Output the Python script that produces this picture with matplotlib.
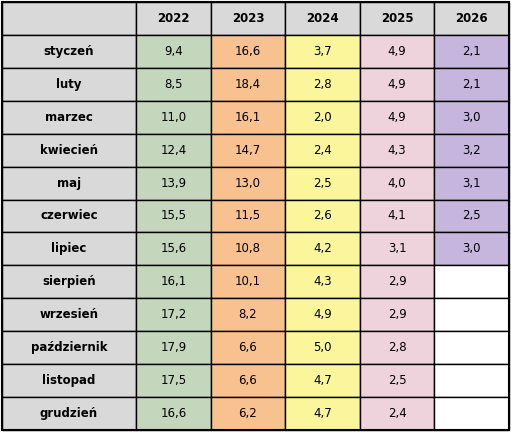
import matplotlib
matplotlib.use("Agg")
import matplotlib.pyplot as plt
from matplotlib.patches import Rectangle

years = ["2022", "2023", "2024", "2025", "2026"]
months = ["styczeń", "luty", "marzec", "kwiecień", "maj", "czerwiec", "lipiec",
          "sierpień", "wrzesień", "październik", "listopad", "grudzień"]
v2022 = [9.4, 8.5, 11.0, 12.4, 13.9, 15.5, 15.6, 16.1, 17.2, 17.9, 17.5, 16.6]
v2023 = [16.6, 18.4, 16.1, 14.7, 13.0, 11.5, 10.8, 10.1, 8.2, 6.6, 6.6, 6.2]
v2024 = [3.7, 2.8, 2.0, 2.4, 2.5, 2.6, 4.2, 4.3, 4.9, 5.0, 4.7, 4.7]
v2025 = [4.9, 4.9, 4.9, 4.3, 4.0, 4.1, 3.1, 2.9, 2.9, 2.8, 2.5, 2.4]
v2026 = [2.1, 2.1, 3.0, 3.2, 3.1, 2.5, 3.0]
series = [v2022, v2023, v2024, v2025, v2026]
colors = ["#c4d6bc", "#f8c290", "#fbf59b", "#efd3dc", "#c6b5dd"]
gray = "#d9d9d9"

W, H = 511, 432
fig = plt.figure(figsize=(W/100, H/100), dpi=100)
ax = fig.add_axes([0, 0, 1, 1])
ax.set_xlim(0, W); ax.set_ylim(H, 0); ax.axis("off")

x0, x1 = 2, 136
colw = (509 - x1) / 5
y0 = 2
rowh = (430 - y0) / 13

def cell(x, y, w, h, fc, txt, bold, lw=1.0):
    ax.add_patch(Rectangle((x, y), w, h, facecolor=fc, edgecolor="black", lw=lw))
    if txt:
        ax.text(x + w/2, y + h/2, txt, ha="center", va="center", fontsize=8.5,
                fontweight="bold" if bold else "normal", family="DejaVu Sans")

cell(x0, y0, x1 - x0, rowh, gray, "", True)
for j, yr in enumerate(years):
    cell(x1 + j*colw, y0, colw, rowh, gray, yr, True)
for i, m in enumerate(months):
    y = y0 + (i+1)*rowh
    cell(x0, y, x1 - x0, rowh, gray, m, True)
    for j, s in enumerate(series):
        if i < len(s):
            cell(x1 + j*colw, y, colw, rowh, colors[j], f"{s[i]:.1f}".replace(".", ","), False)
        else:
            cell(x1 + j*colw, y, colw, rowh, "white", "", False)
ax.add_patch(Rectangle((x0, y0), 509 - x0, 13*rowh, fill=False, edgecolor="black", lw=1.5))
fig.savefig("out.png", dpi=100)
